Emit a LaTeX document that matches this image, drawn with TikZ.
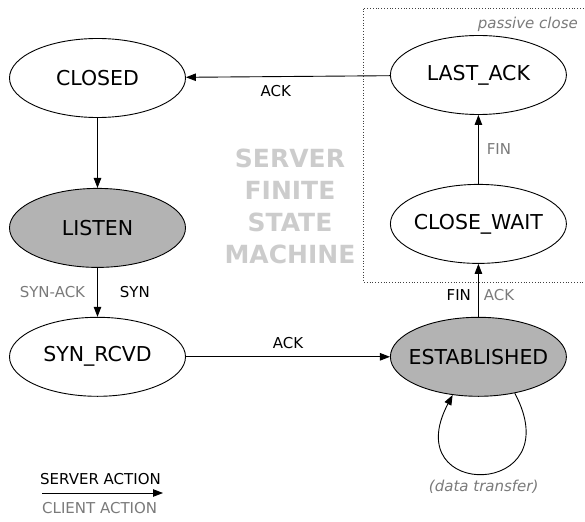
\documentclass[tikz,border=0pt]{standalone}
\usepackage{fontspec}
\setmainfont{DejaVu Sans}
\usetikzlibrary{
  arrows.meta,
  positioning,
  shapes.geometric
}
\definecolor{stateFill}{HTML}{B3B3B3}
\definecolor{clientGray}{HTML}{7A7A7A}
\definecolor{markGray}{HTML}{CCCCCC}
\newcommand{\lblfont}{\fontsize{15}{18}\selectfont}
\newcommand{\sname}[1]{\makebox[0pt]{#1}}
\tikzset{
  state/.style={
    ellipse,
    draw=black,
    fill=#1,
    line width=0.9pt,
    minimum width=176pt,
    minimum height=79pt,
    inner sep=0pt,
    font=\fontsize{20.5}{24}\selectfont
  },
  state/.default=white,
  arr/.style={-{Triangle[length=10pt,width=7.5pt]}, line width=0.9pt, draw=black},
  srv/.style={font=\lblfont, text=black, inner sep=0pt},
  cli/.style={font=\lblfont, text=clientGray, inner sep=0pt},
  note/.style={font=\lblfont\itshape, text=clientGray, inner sep=0pt},
  passbox/.style={draw=black!75, dotted, line width=0.8pt}
}

\begin{document}
\begin{tikzpicture}[x=1pt, y=1pt]
\useasboundingbox (0,0) rectangle (585,-521);

% --- States ---
\node[state] (closed) at (97.5,-78) {\sname{CLOSED}};
\node[state=stateFill, below=70pt of closed] (listen) {\sname{LISTEN}};
\node[state, below=49pt of listen] (synrcvd) {\sname{SYN\_RCVD}};
\node[state=stateFill, right=204pt of synrcvd] (established) {\sname{ESTABLISHED}};
\node[state, above=53pt of established] (closewait) {\sname{CLOSE\_WAIT}};
\node[state, above=69pt of closewait] (lastack) {\sname{LAST\_ACK}};

% --- Passive close frame ---
\draw[passbox] (592,-8) -| (363,-282) -- (592,-282);
\node[note, anchor=east] (passive) at (578,-24) {passive close};

% --- Watermark ---
\node[font=\fontsize{25}{32}\selectfont\bfseries, text=markGray, align=center]
  (title) at (290,-206) {SERVER\\FINITE\\STATE\\MACHINE};

% --- Transitions ---
\draw[arr] (closed) -- (listen);
\draw[arr] (listen) -- (synrcvd)
  node[midway, cli, left=12pt] {SYN-ACK}
  node[midway, srv, right=22pt] {SYN};
\draw[arr] (synrcvd) -- (established)
  node[midway, srv, above=8pt] {ACK};
\draw[arr] (established) -- (closewait)
  node[pos=0.41, srv, left=7pt] {FIN}
  node[pos=0.41, cli, right=5pt] {ACK};
\draw[arr] (closewait) -- (lastack)
  node[midway, cli, right=8pt] {FIN};
\draw[arr] (lastack) -- (closed)
  node[pos=0.56, srv, below=8pt] {ACK};

% --- Data transfer loop ---
\draw[arr] (established.-45) .. controls +(-62:120) and +(-118:120) .. (established.-124)
  node[pos=0.5, note, below=6pt] {(data transfer)};

% --- Legend ---
\coordinate (legL) at (42,-493);
\coordinate (legR) at (163,-493);
\draw[arr] (legL) -- (legR);
\node[srv, above=8pt of legL, anchor=south west, xshift=-2pt] (server) {SERVER ACTION};
\node[cli, below=9pt of legL, anchor=north west] (client) {CLIENT ACTION};

\end{tikzpicture}
\end{document}
